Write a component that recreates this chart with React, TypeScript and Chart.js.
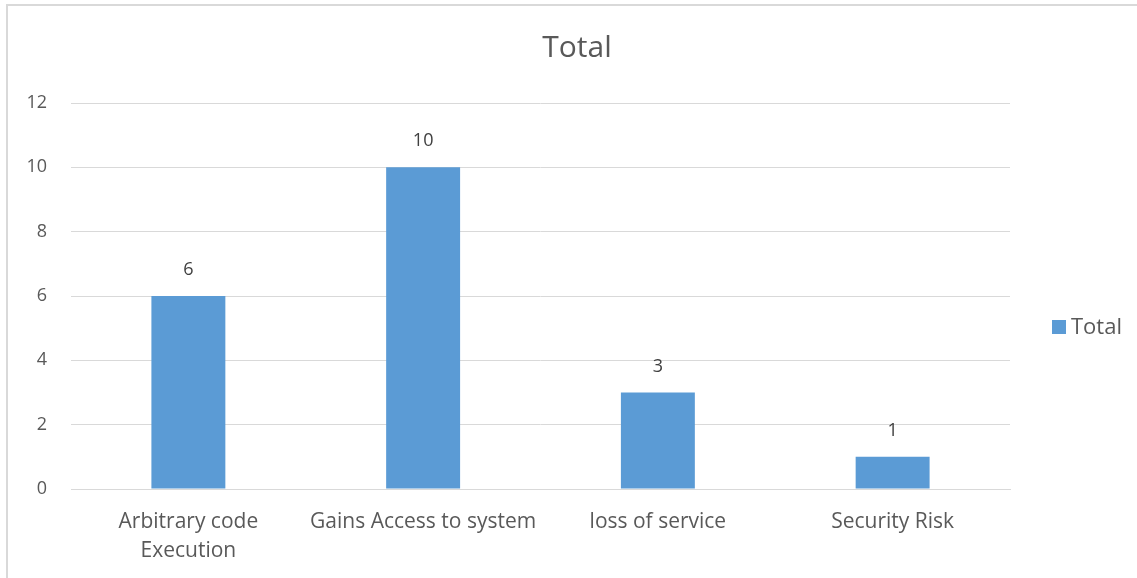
import React, { useEffect, useRef } from "react";
import { Chart, registerables } from "chart.js";

Chart.register(...registerables);

const categories: (string | string[])[] = [
  ["Arbitrary code", "Execution"],
  "Gains Access to system",
  "loss of service",
  "Security Risk",
];
const totals: number[] = [6, 10, 3, 1];
const seriesName = "Total";
const yTicks: number[] = [0, 2, 4, 6, 8, 10, 12];

const FONT = "'Open Sans', Lato, sans-serif";
const TEXT = "#595959";
const GRID = "#d9d9d9";
const BAR = "#5b9bd5";

const dataLabelPlugin = {
  id: "dataLabels",
  afterDatasetsDraw(chart: any) {
    const ctx = chart.ctx;
    const meta = chart.getDatasetMeta(0);
    ctx.save();
    ctx.font = `18px ${FONT}`;
    ctx.fillStyle = "#404040";
    ctx.textAlign = "center";
    ctx.textBaseline = "middle";
    meta.data.forEach((el: any, i: number) => {
      ctx.fillText(String(chart.data.datasets[0].data[i]), el.x, el.y - 26);
    });
    ctx.restore();
  },
};

const legendPlugin = {
  id: "customLegend",
  afterDraw(chart: any) {
    const ctx = chart.ctx;
    const ca = chart.chartArea;
    const ds = chart.data.datasets[0];
    const x = ca.right + 42;
    const yc = (ca.top + ca.bottom) / 2 + 31;
    ctx.save();
    ctx.fillStyle = ds.backgroundColor;
    ctx.fillRect(x, yc - 7, 14, 14);
    ctx.font = `22px ${FONT}`;
    ctx.fillStyle = TEXT;
    ctx.textAlign = "left";
    ctx.textBaseline = "middle";
    ctx.fillText(ds.label, x + 19, yc + 1);
    ctx.restore();
  },
};

export default function App() {
  const ref = useRef<HTMLCanvasElement>(null);
  useEffect(() => {
    if (!ref.current) return;
    const chart = new Chart(ref.current, {
      type: "bar",
      data: {
        labels: categories,
        datasets: [
          {
            label: seriesName,
            data: totals,
            backgroundColor: BAR,
            barPercentage: 0.63,
            categoryPercentage: 0.5,
          },
        ],
      },
      plugins: [dataLabelPlugin, legendPlugin],
      options: {
        responsive: false,
        animation: false,
        layout: { padding: { left: 17, right: 0, top: 0, bottom: 0 } },
        plugins: {
          legend: { display: false },
          tooltip: { enabled: false },
          title: {
            display: true,
            text: seriesName,
            color: TEXT,
            font: { family: FONT, size: 30, weight: "normal", lineHeight: 1.2 },
            padding: { top: 30, bottom: 37 },
          },
        },
        scales: {
          x: {
            afterFit: (s: any) => {
              s.height = 89;
            },
            grid: { display: false, drawTicks: false },
            border: { display: true, color: GRID, width: 1 },
            ticks: {
              color: TEXT,
              font: { family: FONT, size: 21, lineHeight: 1.4 },
              padding: 18,
              maxRotation: 0,
              autoSkip: false,
            },
          },
          y: {
            min: 0,
            max: 12,
            afterFit: (s: any) => {
              s.width = 54;
            },
            afterBuildTicks: (s: any) => {
              s.ticks = yTicks.map((v) => ({ value: v }));
            },
            grid: { color: GRID, lineWidth: 1, drawTicks: false },
            border: { display: false },
            ticks: {
              color: TEXT,
              font: { family: FONT, size: 18 },
              padding: 24,
            },
          },
          yRight: {
            position: "right",
            display: true,
            afterFit: (s: any) => {
              s.width = 127;
            },
            grid: { display: false, drawTicks: false },
            border: { display: false },
            ticks: { display: false },
          },
        },
      },
    } as any);
    return () => chart.destroy();
  }, []);
  return (
    <div
      style={{
        position: "fixed",
        left: 0,
        top: 0,
        width: 1137,
        height: 578,
        background: "#fff",
        overflow: "hidden",
      }}
    >
      <div
        style={{
          position: "absolute",
          left: 6,
          top: 4,
          width: 1200,
          height: 700,
          border: `2px solid ${GRID}`,
          boxSizing: "border-box",
        }}
      />
      <canvas
        ref={ref}
        width={1137}
        height={578}
        style={{ position: "absolute", left: 0, top: 0, width: 1137, height: 578 }}
      />
    </div>
  );
}
